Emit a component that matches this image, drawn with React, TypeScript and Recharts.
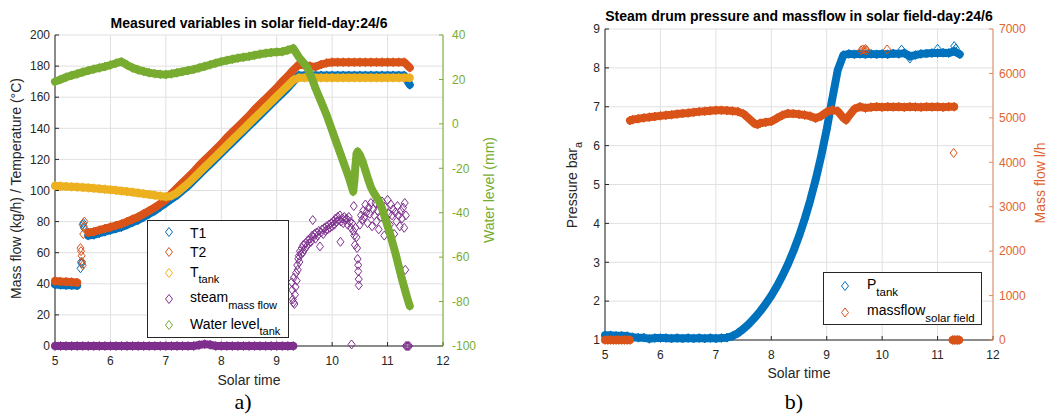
import { CartesianGrid, Legend, Scatter, ScatterChart, XAxis, YAxis } from "recharts";

// MATLAB default line colours
const BLUE = "#0072BD";
const ORANGE = "#D95319";
const YELLOW = "#EDB120";
const PURPLE = "#7E2F8E";
const GREEN = "#77AC30";
const INK = "#262626";
const GRID = "#e0e0e0";
const FONT = "'Liberation Sans', Arial, sans-serif";

// ---------- data: solar time grid (h) ----------
const hours = [
  5, 5.1, 5.2, 5.3, 5.4, 5.5, 5.6, 5.7, 5.8, 5.9,
  6, 6.1, 6.2, 6.3, 6.4, 6.5, 6.6, 6.7, 6.8, 6.9,
  7, 7.1, 7.2, 7.3, 7.4, 7.5, 7.6, 7.7, 7.8, 7.9,
  8, 8.1, 8.2, 8.3, 8.4, 8.5, 8.6, 8.7, 8.8, 8.9,
  9, 9.1, 9.2, 9.3, 9.4, 9.5, 9.6, 9.7, 9.8, 9.9,
  10, 10.1, 10.2, 10.3, 10.4, 10.5, 10.6, 10.7, 10.8, 10.9,
  11, 11.1, 11.2, 11.3, 11.4,
];

// ---------- a) temperatures (°C) ----------
const t1 = [
  39.5, 39.3, 39.1, 39.0, 38.9, null, 71, 71.5, 72.5, 73.5,
  74.5, 75.5, 76.5, 78, 79.5, 81, 83, 85, 87, 89.5,
  92, 94.5, 97, 100, 103, 106.5, 110, 113.5, 117, 120.5,
  124, 127.5, 131, 134.5, 138, 141.5, 145, 148.5, 152, 155.5,
  159, 162.5, 166, 170, 174, 174, 174, 174, 174, 174,
  174, 174, 174, 174, 174, 174, 174, 174, 174, 174,
  174, 174, 174, 174, 168,
];
const t2 = [
  41.8, 41.5, 41.3, 41.1, 40.8, null, 73, 73.5, 74.5, 75.5,
  76.5, 77.5, 78.5, 80, 81.5, 83, 85, 87, 89, 91.5,
  94, 98, 101.5, 105, 108.5, 112, 116, 119.5, 123, 126.5,
  130, 134, 137.5, 141, 144.5, 148, 152, 155.5, 159, 162.5,
  166, 170, 173.5, 177.5, 181, 180.5, 180, 179.5, 181, 182,
  182.5, 182.5, 182.5, 182.5, 182.5, 182.5, 182.5, 182.5, 182.5, 182.5,
  182.5, 182.5, 182.5, 182.5, 179,
];
const tTank = [
  103, 102.8, 102.6, 102.4, 102.2, 102, 101.7, 101.4, 101.1, 100.8,
  100.5, 100.1, 99.7, 99.3, 98.9, 98.4, 97.9, 97.4, 96.9, 96.4,
  96, 96.5, 98.5, 101.5, 104.5, 108, 111.5, 115, 118.5, 122,
  125.5, 129, 132.5, 136, 139.5, 143, 146.5, 150, 153.5, 157,
  160.5, 164, 167.5, 171, 172.5, 172.5, 172.5, 172.5, 172.5, 172.5,
  172.5, 172.5, 172.5, 172.5, 172.5, 172.5, 172.5, 172.5, 172.5, 172.5,
  172.5, 172.5, 172.5, 172.5, 172.5,
];

// transient around 5.5 h, when the pump starts
const t1JumpHours = [5.46, 5.47, 5.48, 5.5, 5.51, 5.52];
const t1Jump = [50, 54, 53, 78, 79, 76];
const t2JumpHours = [5.46, 5.47, 5.48, 5.49, 5.5, 5.51, 5.52, 5.53];
const t2Jump = [63, 61, 58, 54, 52, 72, 77, 80];

// ---------- a) steam mass flow (kg/h) ----------
const steamBase = [
  0, 0, 0, 0, 0, 0, 0, 0, 0, 0,
  0, 0, 0, 0, 0, 0, 0, 0, 0, 0,
  0, 0, 0, 0, 0, 0, 0.6, 1.2, 0.8, 0,
  0, 0, 0, 0, 0, 0, 0, 0, 0, 0,
  0, 0, 0, 0, null, null, null, null, null, null,
  null, null, null, null, null, null, null, null, null, null,
  null, null, null, null, null,
];
const steamHours = [
  9.27, 9.28, 9.29, 9.3, 9.31, 9.32, 9.33, 9.34, 9.35, 9.36,
  9.37, 9.38, 9.39, 9.4, 9.41, 9.42, 9.44, 9.45, 9.47, 9.48,
  9.5, 9.52, 9.54, 9.56, 9.58, 9.6, 9.62, 9.64, 9.65, 9.66,
  9.68, 9.7, 9.72, 9.74, 9.76, 9.78, 9.8, 9.82, 9.84, 9.86,
  9.88, 9.9, 9.92, 9.94, 9.96, 9.98, 10.0, 10.02, 10.04, 10.06,
  10.08, 10.1, 10.12, 10.14, 10.15, 10.16, 10.18, 10.2, 10.22, 10.24,
  10.26, 10.28, 10.3, 10.32, 10.34, 10.35, 10.36, 10.38, 10.39, 10.4,
  10.41, 10.42, 10.44, 10.45, 10.46, 10.47, 10.47, 10.48, 10.48, 10.5,
  10.52, 10.54, 10.56, 10.58, 10.6, 10.62, 10.64, 10.66, 10.68, 10.7,
  10.72, 10.74, 10.76, 10.78, 10.8, 10.82, 10.84, 10.86, 10.88, 10.9,
  10.92, 10.94, 10.96, 10.98, 11.0, 11.02, 11.04, 11.06, 11.08, 11.1,
  11.12, 11.14, 11.16, 11.18, 11.2, 11.22, 11.24, 11.26, 11.28, 11.3,
  11.31, 11.32, 11.33, 11.33, 11.35, 11.37, 11.39,
];
const steamFlow = [
  41, 36, 30, 28, 44, 27, 33, 38, 47, 42,
  52, 49, 56, 58, 54, 61, 59, 63, 60, 65,
  62, 66, 64, 68, 66, 69, 67, 71, 81, 70,
  72, 69, 73, 71, 74, 64, 73, 75, 72, 76,
  74, 77, 75, 78, 76, 79, 77, 80, 78, 82,
  80, 83, 81, 84, 67, 80, 82, 79, 83, 81,
  82, 78, 83, 80, 76, 1, 79, 74, 90, 71,
  65, 76, 70, 63, 56, 52, 48, 43, 39, 78,
  84, 81, 87, 83, 91, 86, 79, 89, 85, 92,
  77, 88, 84, 92, 80, 87, 75, 90, 83, 93,
  86, 71, 89, 82, 94, 85, 78, 91, 84, 88,
  72, 86, 80, 90, 84, 77, 87, 82, 89, 76,
  92, 49, 84, 0, 0, 0, 0,
];

// ---------- a) water level in tank (mm) ----------
const waterHours = [
  5, 5.1, 5.2, 5.3, 5.4, 5.5, 5.6, 5.7, 5.8, 5.9,
  6, 6.1, 6.2, 6.3, 6.4, 6.5, 6.6, 6.7, 6.8, 6.9,
  7, 7.1, 7.2, 7.3, 7.4, 7.5, 7.6, 7.7, 7.8, 7.9,
  8, 8.1, 8.2, 8.3, 8.4, 8.5, 8.6, 8.7, 8.8, 8.9,
  9, 9.1, 9.2, 9.3, 9.35, 9.4, 9.45, 9.5, 9.55, 9.6,
  9.65, 9.7, 9.75, 9.8, 9.85, 9.9, 9.95, 10.0, 10.05, 10.1,
  10.15, 10.2, 10.25, 10.3, 10.35, 10.38, 10.4, 10.42, 10.44, 10.46,
  10.5, 10.55, 10.6, 10.65, 10.7, 10.75, 10.8, 10.85, 10.9, 10.95,
  11.0, 11.05, 11.1, 11.15, 11.2, 11.25, 11.3, 11.35, 11.4,
];
const waterLevel = [
  19, 20, 21, 21.8, 22.5, 23.3, 24, 24.6, 25.2, 25.8,
  26.5, 27.3, 28, 26.5, 25.2, 24.3, 23.6, 23, 22.6, 22.3,
  22.2, 22.5, 23, 23.5, 24, 24.5, 25.2, 25.9, 26.6, 27.3,
  28, 28.6, 29.1, 29.6, 30, 30.4, 30.9, 31.4, 31.8, 32.1,
  32.3, 32.5, 33.2, 34, 32, 30, 28.5, 27, 25.5, 22.5,
  19.5, 16, 13, 10, 7, 4, 0.5, -3, -6.5, -10,
  -13.5, -17, -20.5, -24, -28, -30.5, -26, -19, -13.5, -12.5,
  -14, -17, -21, -25, -28.5, -31, -33, -35, -38, -42,
  -46, -50, -54.5, -59, -64, -69, -73.5, -78, -82,
];

// ---------- b) drum pressure (bar a) ----------
const pressure = [
  1.12, 1.12, 1.11, 1.11, 1.1, 1.07, 1.06, 1.06, 1.03, 1.05,
  1.05, 1.05, 1.04, 1.05, 1.04, 1.05, 1.04, 1.05, 1.04, 1.05,
  1.04, 1.05, 1.06, 1.1, 1.18, 1.29, 1.42, 1.57, 1.74, 1.93,
  2.14, 2.38, 2.65, 2.95, 3.29, 3.67, 4.1, 4.58, 5.12, 5.73,
  6.42, 7.2, 7.95, 8.33, 8.36, 8.35, 8.36, 8.35, 8.36, 8.35,
  8.36, 8.35, 8.37, 8.36, 8.38, 8.3, 8.33, 8.36, 8.37, 8.38,
  8.38, 8.39, 8.38, 8.43, 8.35,
];
const pressureSpikeHours = [10.35, 10.5, 11.0, 11.3, 11.33];
const pressureSpikes = [8.47, 8.24, 8.49, 8.56, 8.5];

// ---------- b) solar field mass flow (l/h) ----------
const flowHours = [
  5.45, 5.5, 5.6, 5.7, 5.8, 5.9, 6, 6.1, 6.2, 6.3,
  6.4, 6.5, 6.6, 6.7, 6.8, 6.9, 7, 7.1, 7.2, 7.3,
  7.4, 7.5, 7.6, 7.7, 7.75, 7.8, 7.9, 8, 8.1, 8.2,
  8.3, 8.4, 8.5, 8.6, 8.7, 8.8, 8.9, 9, 9.1, 9.2,
  9.3, 9.35, 9.4, 9.5, 9.6, 9.7, 9.8, 9.9, 10, 10.1,
  10.2, 10.3, 10.4, 10.5, 10.6, 10.7, 10.8, 10.9, 11, 11.1,
  11.2, 11.3,
];
const flow = [
  4940, 4960, 4980, 5000, 5015, 5030, 5045, 5060, 5070, 5085,
  5100, 5110, 5125, 5140, 5150, 5160, 5170, 5170, 5165, 5155,
  5140, 5090, 4980, 4870, 4850, 4880, 4900, 4920, 4990, 5060,
  5100, 5095, 5080, 5065, 5040, 4990, 5040, 5130, 5175, 5150,
  5000, 4950, 5040, 5200, 5250, 5220, 5240, 5250, 5240, 5250,
  5245, 5250, 5240, 5250, 5245, 5240, 5250, 5245, 5250, 5240,
  5250, 5250,
];
const flowZeroHours = [5.0, 5.05, 5.1, 5.15, 5.2, 5.25, 5.3, 5.35, 5.4, 5.45];
const flowZero = [0, 0, 0, 0, 0, 0, 0, 0, 0, 0];
const flowZeroEndHours = [11.27, 11.3, 11.33, 11.36, 11.39];
const flowZeroEnd = [0, 0, 0, 0, 0];
const flowOutlierHours = [9.62, 9.65, 9.68, 9.7, 9.72, 10.09, 11.29];
const flowOutliers = [6520, 6540, 6530, 6550, 6520, 6540, 4210];

// ---------- ticks ----------
const timeTicks = [5, 6, 7, 8, 9, 10, 11, 12];
const tempTicks = [0, 20, 40, 60, 80, 100, 120, 140, 160, 180, 200];
const levelTicks = [-100, -80, -60, -40, -20, 0, 20, 40];
const pressureTicks = [1, 2, 3, 4, 5, 6, 7, 8, 9];
const flowTicks = [0, 1000, 2000, 3000, 4000, 5000, 6000, 7000];

type Point = { x: number; y: number };

function toPoints(xs: number[], ys: number[]): Point[] {
  return xs.map((x, i) => ({ x, y: ys[i] }));
}

// split a series at nulls so the band line does not bridge the gaps
function toSegments(xs: number[], ys: (number | null)[]): Point[][] {
  const out: Point[][] = [];
  let cur: Point[] = [];
  xs.forEach((x, i) => {
    const y = ys[i];
    if (y === null || y === undefined) {
      if (cur.length) out.push(cur);
      cur = [];
    } else {
      cur.push({ x, y });
    }
  });
  if (cur.length) out.push(cur);
  return out;
}

function diamond(color: string) {
  return (props: any) => {
    const { cx, cy } = props;
    if (cx == null || cy == null) return <g />;
    return (
      <path
        d={`M${cx},${cy - 4.5}L${cx + 3.5},${cy}L${cx},${cy + 4.5}L${cx - 3.5},${cy}Z`}
        fill="none"
        stroke={color}
        strokeWidth={1}
      />
    );
  };
}

// dense logged samples look like a solid band of markers
const band = (color: string) => ({
  stroke: color,
  strokeWidth: 8,
  strokeLinecap: "round",
  strokeLinejoin: "round",
});

function LegendMarker({ x, y, color }: { x: number; y: number; color: string }) {
  return (
    <path
      d={`M${x},${y - 4.5}L${x + 3.5},${y}L${x},${y + 4.5}L${x - 3.5},${y}Z`}
      fill="none"
      stroke={color}
      strokeWidth={1}
    />
  );
}

function LegendA() {
  return (
    <svg width={142} height={118} style={{ display: "block", fontFamily: FONT }}>
      <rect x={0.5} y={0.5} width={141} height={117} fill="#fff" stroke={INK} strokeWidth={1} />
      <LegendMarker x={22} y={12} color={BLUE} />
      <text x={43} y={17.5} fontSize={14} fill="#000">T1</text>
      <LegendMarker x={22} y={32} color={ORANGE} />
      <text x={43} y={37} fontSize={14} fill="#000">T2</text>
      <LegendMarker x={22} y={53} color={YELLOW} />
      <text x={43} y={57} fontSize={14} fill="#000">
        T<tspan dy={6} fontSize={11}>tank</tspan>
      </text>
      <LegendMarker x={22} y={79} color={PURPLE} />
      <text x={43} y={82} fontSize={14} fill="#000">
        steam<tspan dy={6.5} fontSize={11}>mass flow</tspan>
      </text>
      <LegendMarker x={22} y={105} color={GREEN} />
      <text x={43} y={108.5} fontSize={14} fill="#000">
        Water level<tspan dy={6} fontSize={11}>tank</tspan>
      </text>
    </svg>
  );
}

function LegendB() {
  return (
    <svg width={159} height={53} style={{ display: "block", fontFamily: FONT }}>
      <rect x={0.5} y={0.5} width={158} height={52} fill="#fff" stroke={INK} strokeWidth={1} />
      <LegendMarker x={22} y={14} color={BLUE} />
      <text x={44} y={17} fontSize={14} fill="#000">
        P<tspan dy={7} fontSize={11.5}>tank</tspan>
      </text>
      <LegendMarker x={22} y={40.5} color={ORANGE} />
      <text x={44} y={43} fontSize={14} fill="#000">
        massflow<tspan dy={6.5} fontSize={11.5}>solar field</tspan>
      </text>
    </svg>
  );
}

const tickStyle = (fill: string) => ({ fill, fontSize: 12, fontFamily: FONT });

function ChartA() {
  const t1Segments = toSegments(hours, t1);
  const t2Segments = toSegments(hours, t2);
  const tankSegments = toSegments(hours, tTank);
  const steamSegments = toSegments(hours, steamBase);
  return (
    <ScatterChart width={500} height={400} margin={{ top: 35, right: 12, bottom: 24, left: 10 }}>
      <CartesianGrid stroke={GRID} yAxisId="left" />
      <XAxis
        type="number"
        dataKey="x"
        domain={[5, 12]}
        ticks={timeTicks}
        height={30}
        tickSize={-4}
        tickMargin={14}
        stroke={INK}
        tick={tickStyle(INK)}
      />
      <YAxis
        yAxisId="left"
        type="number"
        dataKey="y"
        domain={[0, 200]}
        ticks={tempTicks}
        width={45}
        tickSize={-4}
        tickMargin={9}
        stroke={INK}
        tick={tickStyle(INK)}
      />
      <YAxis
        yAxisId="right"
        orientation="right"
        type="number"
        dataKey="y"
        domain={[-100, 40]}
        ticks={levelTicks}
        width={45}
        tickSize={-4}
        tickMargin={13}
        stroke={GREEN}
        tick={tickStyle(GREEN)}
      />
      {t1Segments.map((seg, i) => (
        <Scatter key={`t1-${i}`} yAxisId="left" data={seg} fill={BLUE} shape={diamond(BLUE)} line={band(BLUE)} isAnimationActive={false} />
      ))}
      <Scatter yAxisId="left" data={toPoints(t1JumpHours, t1Jump)} fill={BLUE} shape={diamond(BLUE)} isAnimationActive={false} />
      {t2Segments.map((seg, i) => (
        <Scatter key={`t2-${i}`} yAxisId="left" data={seg} fill={ORANGE} shape={diamond(ORANGE)} line={band(ORANGE)} isAnimationActive={false} />
      ))}
      <Scatter yAxisId="left" data={toPoints(t2JumpHours, t2Jump)} fill={ORANGE} shape={diamond(ORANGE)} isAnimationActive={false} />
      {tankSegments.map((seg, i) => (
        <Scatter key={`tk-${i}`} yAxisId="left" data={seg} fill={YELLOW} shape={diamond(YELLOW)} line={band(YELLOW)} isAnimationActive={false} />
      ))}
      {steamSegments.map((seg, i) => (
        <Scatter key={`st-${i}`} yAxisId="left" data={seg} fill={PURPLE} shape={diamond(PURPLE)} line={band(PURPLE)} isAnimationActive={false} />
      ))}
      <Scatter yAxisId="left" data={toPoints(steamHours, steamFlow)} fill={PURPLE} shape={diamond(PURPLE)} isAnimationActive={false} />
      <Scatter yAxisId="right" data={toPoints(waterHours, waterLevel)} fill={GREEN} shape={diamond(GREEN)} line={band(GREEN)} isAnimationActive={false} />
      <Legend
        layout="vertical"
        align="center"
        verticalAlign="middle"
        width={142}
        height={118}
        wrapperStyle={{ left: 147, top: 220, width: 142, height: 118 }}
        content={() => <LegendA />}
      />
    </ScatterChart>
  );
}

function ChartB() {
  return (
    <ScatterChart width={529} height={400} margin={{ top: 29, right: 11, bottom: 30, left: 40 }}>
      <CartesianGrid stroke={GRID} yAxisId="left" />
      <XAxis
        type="number"
        dataKey="x"
        domain={[5, 12]}
        ticks={timeTicks}
        height={30}
        tickSize={-4}
        tickMargin={14}
        stroke={INK}
        tick={tickStyle(INK)}
      />
      <YAxis
        yAxisId="left"
        type="number"
        dataKey="y"
        domain={[1, 9]}
        ticks={pressureTicks}
        width={45}
        tickSize={-4}
        tickMargin={9}
        stroke={INK}
        tick={tickStyle(INK)}
      />
      <YAxis
        yAxisId="right"
        orientation="right"
        type="number"
        dataKey="y"
        domain={[0, 7000]}
        ticks={flowTicks}
        width={45}
        tickSize={-4}
        tickMargin={10}
        stroke="#E58A62"
        tick={tickStyle("#DE6430")}
      />
      <Scatter yAxisId="left" data={toPoints(hours, pressure)} fill={BLUE} shape={diamond(BLUE)} line={band(BLUE)} isAnimationActive={false} />
      <Scatter yAxisId="left" data={toPoints(pressureSpikeHours, pressureSpikes)} fill={BLUE} shape={diamond(BLUE)} isAnimationActive={false} />
      <Scatter yAxisId="right" data={toPoints(flowZeroHours, flowZero)} fill={ORANGE} shape={diamond(ORANGE)} line={band(ORANGE)} isAnimationActive={false} />
      <Scatter yAxisId="right" data={toPoints(flowHours, flow)} fill={ORANGE} shape={diamond(ORANGE)} line={band(ORANGE)} isAnimationActive={false} />
      <Scatter yAxisId="right" data={toPoints(flowZeroEndHours, flowZeroEnd)} fill={ORANGE} shape={diamond(ORANGE)} line={band(ORANGE)} isAnimationActive={false} />
      <Scatter yAxisId="right" data={toPoints(flowOutlierHours, flowOutliers)} fill={ORANGE} shape={diamond(ORANGE)} isAnimationActive={false} />
      <Legend
        layout="vertical"
        align="center"
        verticalAlign="middle"
        width={159}
        height={53}
        wrapperStyle={{ left: 303, top: 272, width: 159, height: 53 }}
        content={() => <LegendB />}
      />
    </ScatterChart>
  );
}

export default function App() {
  return (
    <div
      style={{
        position: "absolute",
        left: 0,
        top: 0,
        width: 1049,
        height: 417,
        background: "#fff",
        fontFamily: FONT,
        overflow: "hidden",
      }}
    >
      <div style={{ position: "absolute", left: 0, top: 0 }}>
        <ChartA />
      </div>
      <div style={{ position: "absolute", left: 520, top: 0 }}>
        <ChartB />
      </div>
      <svg
        width={1049}
        height={417}
        style={{ position: "absolute", left: 0, top: 0, pointerEvents: "none" }}
        fontFamily={FONT}
      >
        <text x={249} y={28} textAnchor="middle" fontSize={14} fontWeight="bold" fill="#000">
          Measured variables in solar field-day:24/6
        </text>
        <text x={799} y={21} textAnchor="middle" fontSize={14} fontWeight="bold" fill="#000">
          Steam drum pressure and massflow in solar field-day:24/6
        </text>
        <text x={249} y={385} textAnchor="middle" fontSize={14} fill={INK}>Solar time</text>
        <text x={799} y={378} textAnchor="middle" fontSize={14} fill={INK}>Solar time</text>
        <text transform="translate(20.5,188.5) rotate(-90)" textAnchor="middle" fontSize={14} fill={INK}>
          Mass flow (kg/h) / Temperature (°C)
        </text>
        <text transform="translate(494,190) rotate(-90)" textAnchor="middle" fontSize={14} fill={GREEN}>
          Water level (mm)
        </text>
        <text transform="translate(577,185) rotate(-90)" textAnchor="middle" fontSize={14} fill={INK}>
          Pressure bar<tspan dy={5} fontSize={11}>a</tspan>
        </text>
        <text transform="translate(1045,183) rotate(-90)" textAnchor="middle" fontSize={14} fill="#DE6430">
          Mass flow l/h
        </text>
        <text x={243} y={409} textAnchor="middle" fontSize={22} fill="#000" fontFamily="'Liberation Serif', 'Times New Roman', serif">
          a)
        </text>
        <text x={794} y={409} textAnchor="middle" fontSize={22} fill="#000" fontFamily="'Liberation Serif', 'Times New Roman', serif">
          b)
        </text>
      </svg>
    </div>
  );
}
